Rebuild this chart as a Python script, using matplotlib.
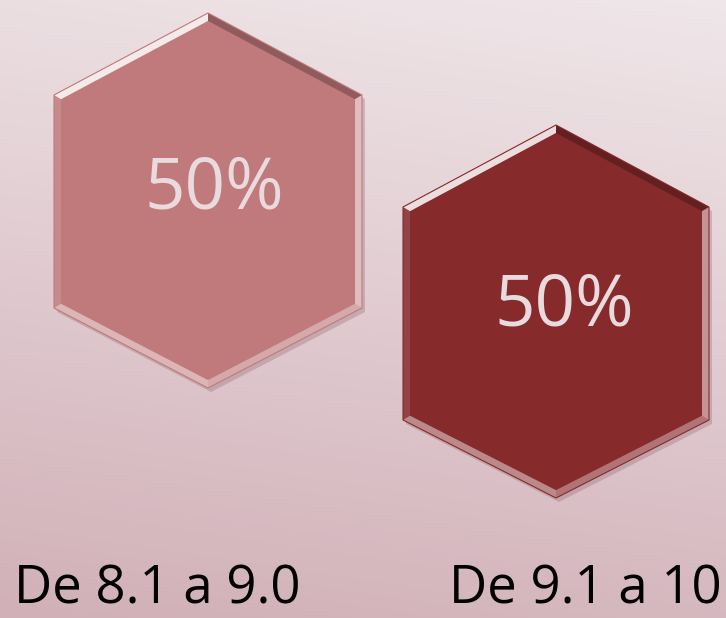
import numpy as np
import matplotlib.pyplot as plt
from matplotlib.patches import Polygon

categories = ["De 8.1 a 9.0", "De 9.1 a 10"]
values = [50, 50]
fills = ["#c07a7b", "#862a2c"]

# hexagon boxes in pixels: centre x, top, bottom, half width, upper shoulder y, lower shoulder y
boxes = [(208, 13, 388, 154, 95, 308),
         (556, 125, 498, 153, 207, 420)]
text_pos = [(214, 190), (564, 307)]
label_x = [157, 585]


def hex_pts(cx, top, bot, hw, y1, y2):
    return np.array([[cx, top], [cx + hw, y1], [cx + hw, y2],
                     [cx, bot], [cx - hw, y2], [cx - hw, y1]], float)


def inset(pts, d):
    n = len(pts)
    c = pts.mean(axis=0)
    lines = []
    for i in range(n):
        p, q = pts[i], pts[(i + 1) % n]
        t = (q - p) / np.linalg.norm(q - p)
        nrm = np.array([-t[1], t[0]])
        if np.dot(c - p, nrm) < 0:
            nrm = -nrm
        lines.append((p + nrm * d, t))
    out = []
    for i in range(n):
        p1, t1 = lines[i - 1]
        p2, t2 = lines[i]
        A = np.array([t1, -t2]).T
        s = np.linalg.solve(A, p2 - p1)
        out.append(p1 + t1 * s[0])
    return np.array(out)


fig = plt.figure(figsize=(7.26, 6.18), dpi=100)
ax = fig.add_axes([0, 0, 1, 1])
ax.set_xlim(0, 726)
ax.set_ylim(618, 0)
ax.axis("off")

# background gradient
yy, xx = np.mgrid[0:618, 0:726]
t = yy / 618.0 * 0.85 + (1 - xx / 726.0) * 0.15
top = np.array([0.94, 0.905, 0.915])
bot = np.array([0.82, 0.69, 0.72])
bg = top[None, None, :] * (1 - t[..., None]) + bot[None, None, :] * t[..., None]
ax.imshow(bg, extent=[0, 726, 618, 0], aspect="auto", zorder=0)

# edge shades: UR slant, right, LR slant, LL slant, left, UL slant
edge_alpha = [(-0.25), 0.5, 0.35, 0.45, 0.12, 0.85]

for k, b in enumerate(boxes):
    pts = hex_pts(*b)
    shadow = pts + np.array([3, 4])
    ax.add_patch(Polygon(shadow, closed=True, fc="#7a4a50", ec="none", alpha=0.25, zorder=1))
    ax.add_patch(Polygon(pts, closed=True, fc=fills[k], ec="none", zorder=2))
    inn = inset(pts, 7)
    for i in range(6):
        quad = [pts[i], pts[(i + 1) % 6], inn[(i + 1) % 6], inn[i]]
        a = edge_alpha[i]
        col = "white" if a > 0 else "black"
        ax.add_patch(Polygon(quad, closed=True, fc=col, ec="none", alpha=abs(a), zorder=3))
    ax.add_patch(Polygon(pts, closed=True, fc="none", ec=fills[k], lw=0.8, zorder=4))
    ax.text(text_pos[k][0], text_pos[k][1], "%d%%" % values[k], ha="center", va="center",
            fontsize=51, color="#e9dade", family=["Open Sans", "DejaVu Sans"], zorder=5)
    ax.text(label_x[k], 603, categories[k], ha="center", va="baseline",
            fontsize=38, color="black", family=["Open Sans", "DejaVu Sans"], zorder=5)

fig.savefig("out.png", dpi=100)
